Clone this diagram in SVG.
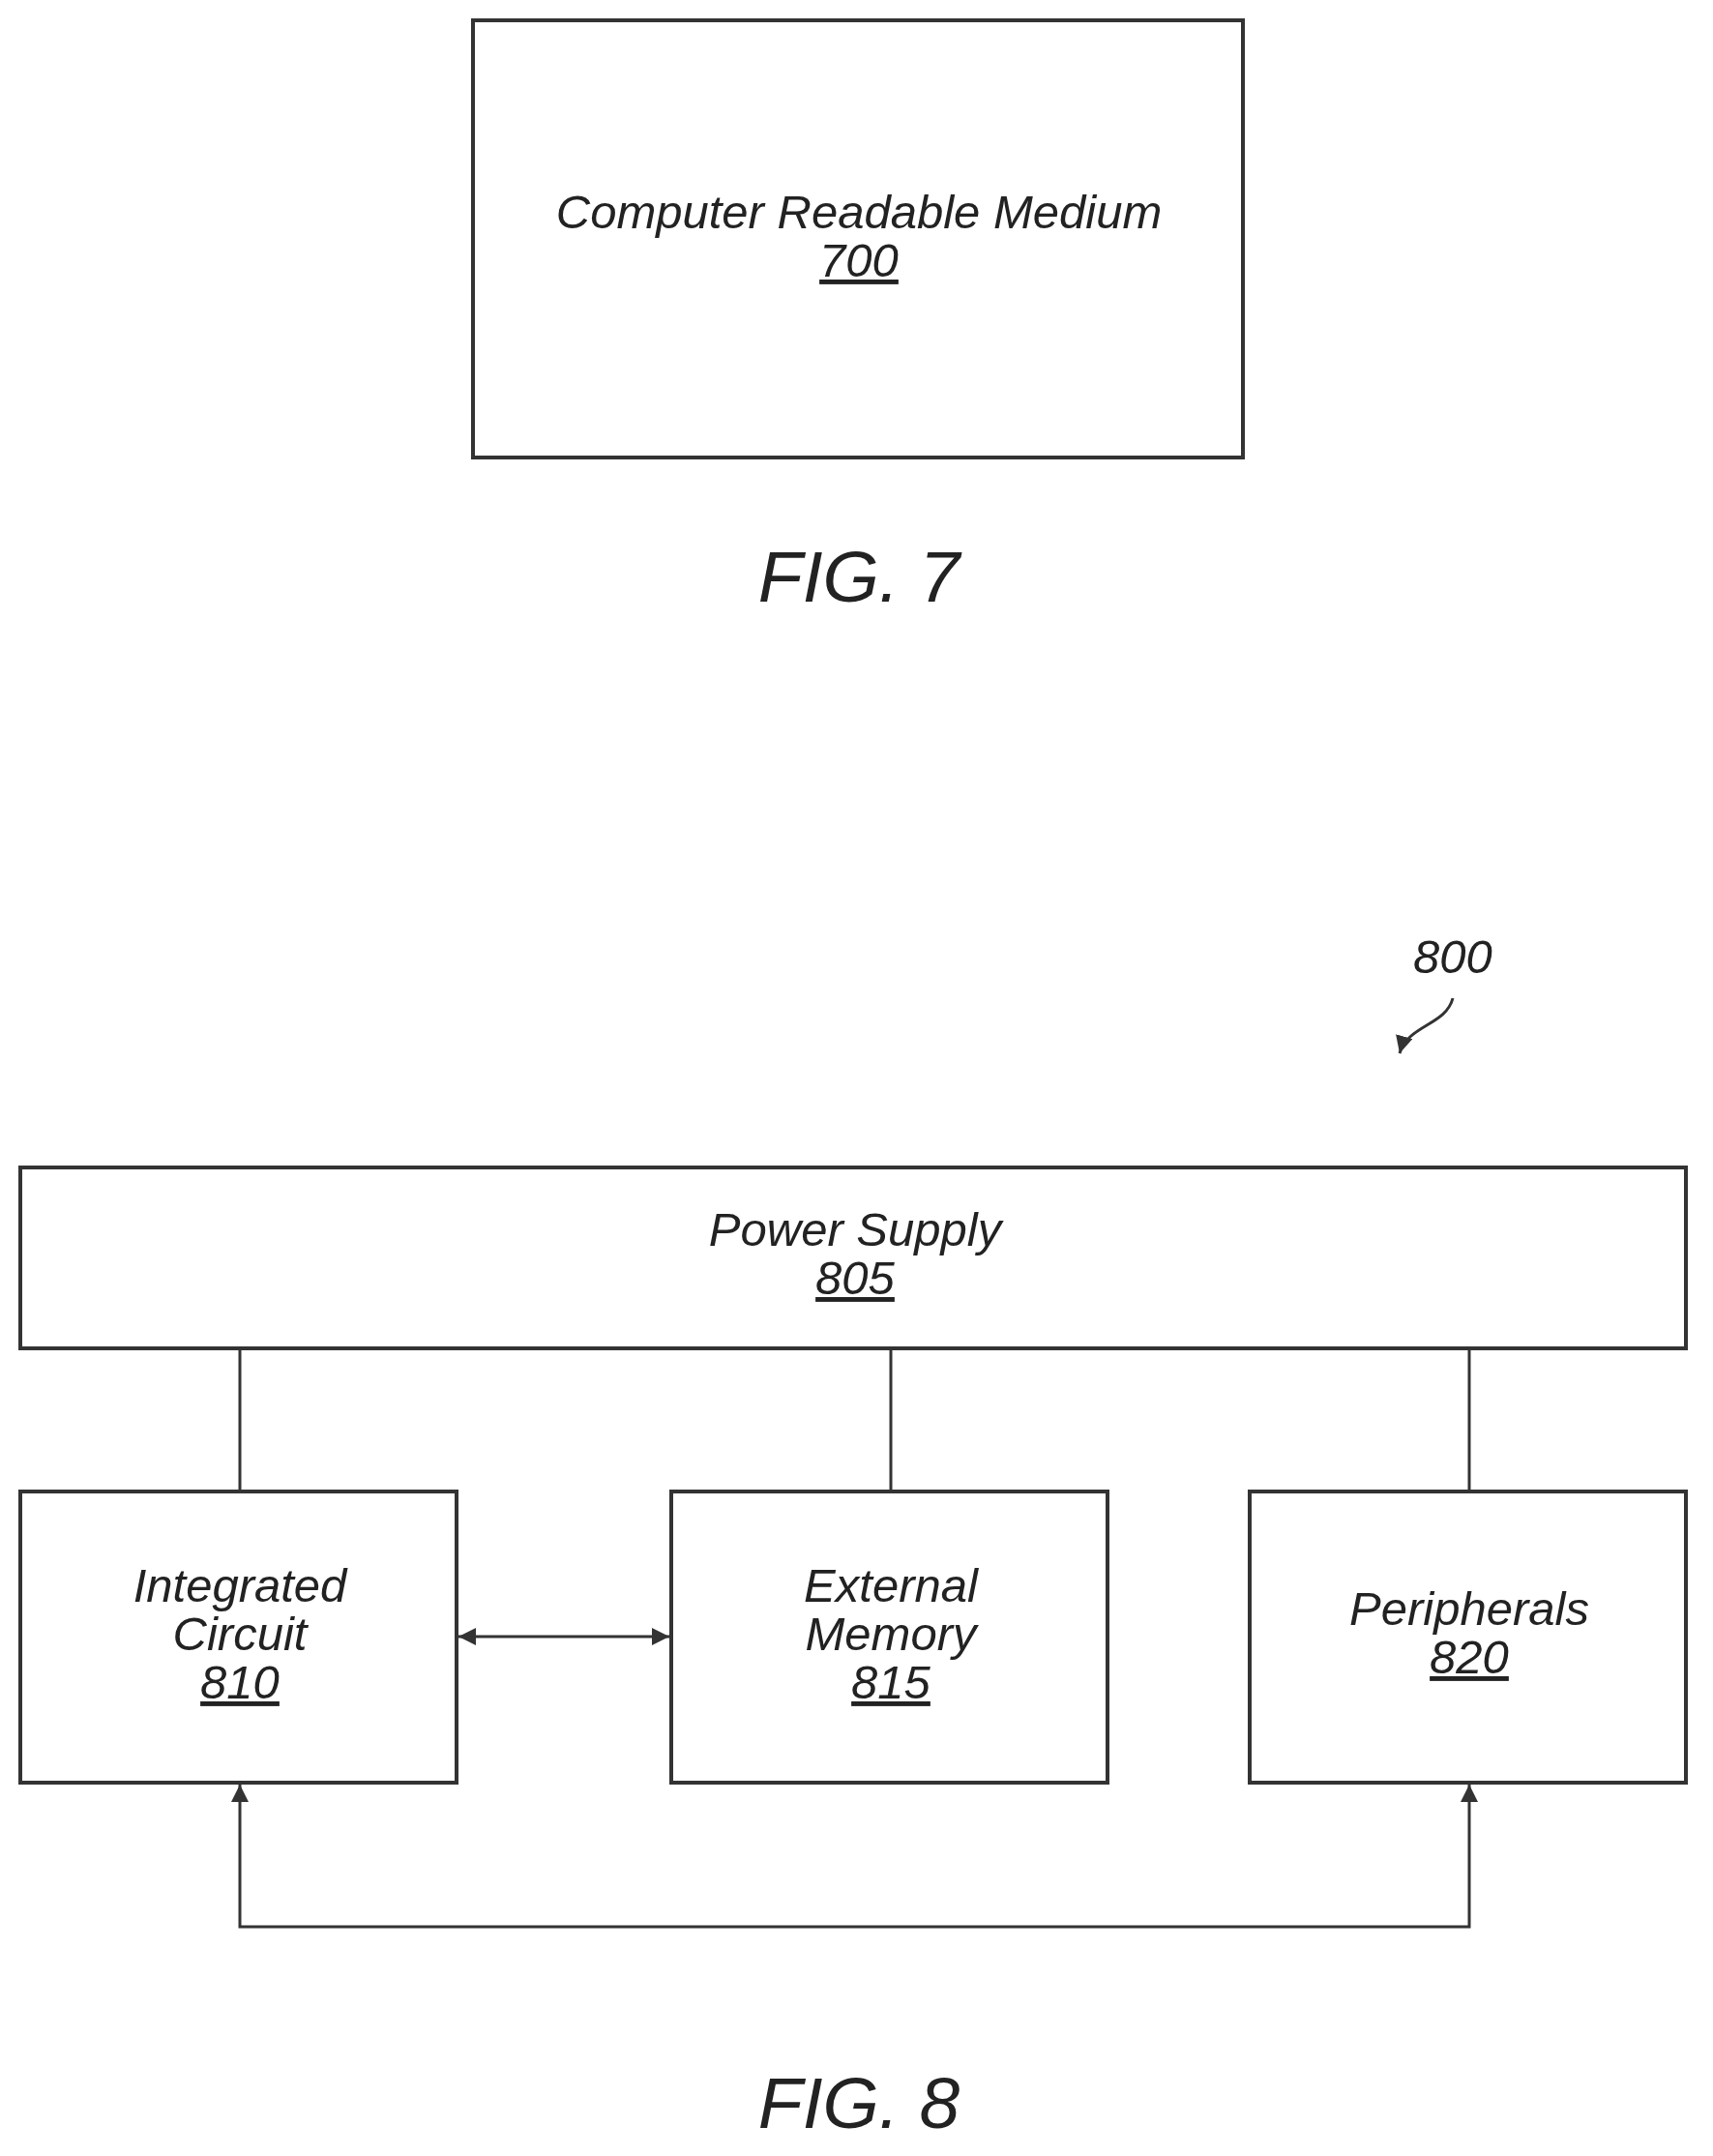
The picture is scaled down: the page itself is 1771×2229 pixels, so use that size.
<svg xmlns="http://www.w3.org/2000/svg" width="1771" height="2229" viewBox="0 0 1771 2229">
<style>
.box{fill:#fff;stroke:#333;stroke-width:4}
.t{font-family:"Liberation Sans",Arial,sans-serif;font-style:italic;font-size:49px;fill:#222;text-anchor:middle}
.u{text-decoration:underline}
.fig{font-family:"Liberation Sans",Arial,sans-serif;font-style:italic;font-size:75px;fill:#222;text-anchor:middle}
.ln{fill:none;stroke:#333;stroke-width:3}
</style>
<defs>
<marker id="b" viewBox="0 0 10 10" refX="10" refY="5" markerWidth="18" markerHeight="18" orient="auto-start-reverse" markerUnits="userSpaceOnUse"><path d="M0,0 L10,5 L0,10 z" fill="#333"/></marker>
</defs>
<rect width="1771" height="2229" fill="#fff"/>
<g id="n700"><rect class="box" x="489" y="21" width="796" height="452"/>
<text class="t" x="888" y="236">Computer Readable Medium</text>
<text class="t u" x="888" y="286">700</text></g>
<text class="fig" x="888" y="622">FIG. 7</text>
<g id="n800"><text class="t" x="1502" y="1006">800</text></g>
<g id="n805"><rect class="box" x="21" y="1207" width="1722" height="187"/>
<text class="t" x="884" y="1288">Power Supply</text>
<text class="t u" x="884" y="1338">805</text></g>
<g id="n810"><rect class="box" x="21" y="1542" width="451" height="301"/>
<text class="t" x="248" y="1656">Integrated</text>
<text class="t" x="248" y="1706">Circuit</text>
<text class="t u" x="248" y="1756">810</text></g>
<g id="n815"><rect class="box" x="694" y="1542" width="451" height="301"/>
<text class="t" x="921" y="1656">External</text>
<text class="t" x="921" y="1706">Memory</text>
<text class="t u" x="921" y="1756">815</text></g>
<g id="n820"><rect class="box" x="1292" y="1542" width="451" height="301"/>
<text class="t" x="1519" y="1680">Peripherals</text>
<text class="t u" x="1519" y="1730">820</text></g>
<g id="connectors">
<path class="ln" d="M1502,1032 C1495,1060 1455,1060 1447,1089" marker-end="url(#b)"/>
<line class="ln" x1="248" y1="1394" x2="248" y2="1542"/>
<line class="ln" x1="921" y1="1394" x2="921" y2="1542"/>
<line class="ln" x1="1519" y1="1394" x2="1519" y2="1542"/>
<line class="ln" x1="474" y1="1692" x2="692" y2="1692" marker-start="url(#b)" marker-end="url(#b)"/>
<path class="ln" d="M248,1845 V1992 H1519 V1845" marker-start="url(#b)" marker-end="url(#b)"/>
</g>
<text class="fig" x="888" y="2200">FIG. 8</text>
</svg>
